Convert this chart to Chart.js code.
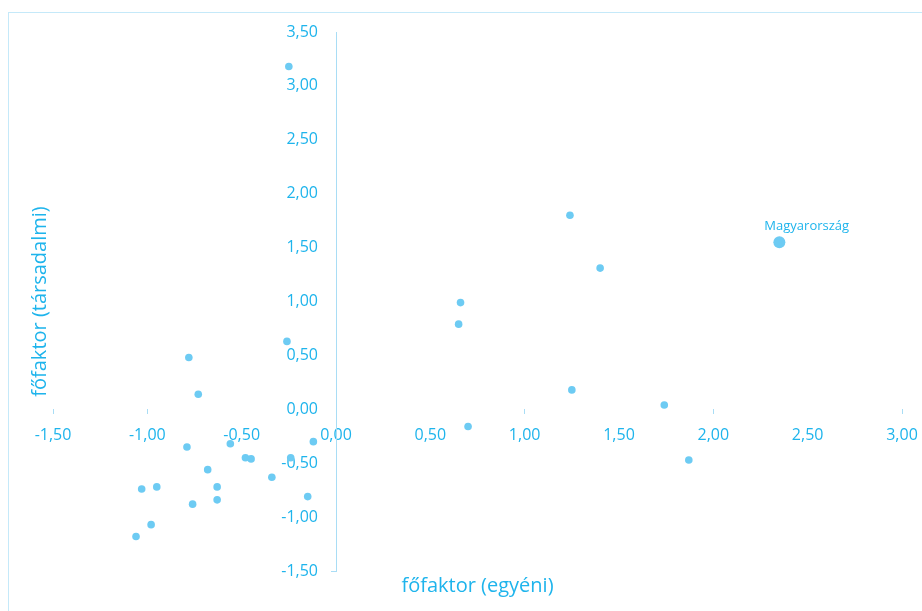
<!DOCTYPE html>
<html>
<head>
<meta charset="utf-8">
<script src="https://cdn.jsdelivr.net/npm/chart.js@4/dist/chart.umd.min.js"></script>
<style>
  html, body { margin: 0; padding: 0; background: #ffffff; overflow: hidden; }
  #wrap { position: relative; width: 922px; height: 611px; overflow: hidden; }
  #frame { position: absolute; left: 8px; top: 12px; width: 940px; height: 640px; border: 1px solid #C5E9F9; box-sizing: border-box; }
  #c { position: absolute; left: 0; top: 0; }
</style>
</head>
<body>
<div id="wrap">
  <div id="frame"></div>
  <canvas id="c" width="922" height="611"></canvas>
</div>
<script>
// ---- data ----
const xTitle = 'főfaktor (egyéni)';
const yTitle = 'főfaktor (társadalmi)';
const highlightLabel = 'Magyarország';

// individual factor (x) and social factor (y) of the other countries
const egyeni = [
  -0.25, 1.24, 1.40, 0.66, 0.65, -0.26, -0.78, -0.73, 1.25, 1.74,
  0.70, -0.12, -0.79, -0.56, -0.48, -0.45, -0.24, 1.87, -0.68, -0.34,
  -0.95, -0.63, -1.03, -0.15, -0.63, -0.76, -0.98, -1.06
];
const tarsadalmi = [
  3.18, 1.80, 1.31, 0.99, 0.79, 0.63, 0.48, 0.14, 0.18, 0.04,
  -0.16, -0.30, -0.35, -0.32, -0.45, -0.46, -0.45, -0.47, -0.56, -0.63,
  -0.72, -0.72, -0.74, -0.81, -0.84, -0.88, -1.07, -1.18
];
// the highlighted country
const huX = [2.35];
const huY = [1.55];

// axis ranges / tick spacing
const xRange = [-1.5, 3.0];
const yRange = [-1.5, 3.5];
const tickStep = 0.5;
const xMarkedTicks = [-1.5, -1, 1, 2, 3];
const yMarkedTicks = [-1.5];

// ---- styles ----
const TEXT = '#1EB4EC';
const POINT = '#6DCBF3';
const AXIS = '#A9DDF5';
const FONT = '"Open Sans", "Noto Sans", sans-serif';
const Y_LABEL_GAP = 18;

const fmt = v => Math.abs(v) < 1e-9 ? '0,00' : v.toFixed(2).replace('.', ',');
const marked = (list) => (ctx) => {
  if (!ctx.tick) return 'transparent';
  return list.some(t => Math.abs(t - ctx.tick.value) < 1e-6) ? AXIS : 'transparent';
};

// y labels of an axis placed at x = 0 are drawn flush with the line; move them left a bit
const yLabelGapPlugin = {
  id: 'yLabelGap',
  beforeDraw(chart) {
    const scale = chart.scales.y;
    const items = scale.getLabelItems(chart.chartArea);
    if (!items._shifted) {
      items.forEach(it => { it.options.translation[0] -= Y_LABEL_GAP; });
      items._shifted = true;
    }
  }
};

const titlesPlugin = {
  id: 'titles',
  afterDraw(chart) {
    const { ctx, chartArea } = chart;
    ctx.save();
    ctx.fillStyle = TEXT;
    ctx.font = '20px ' + FONT;
    ctx.textAlign = 'center';
    ctx.textBaseline = 'middle';
    ctx.fillText(xTitle, (chartArea.left + chartArea.right) / 2, 586);
    ctx.translate(40, (chartArea.top + chartArea.bottom) / 2);
    ctx.rotate(-Math.PI / 2);
    ctx.fillText(yTitle, 0, 0);
    ctx.restore();

    const meta = chart.getDatasetMeta(1);
    const pt = meta.data[0];
    ctx.save();
    ctx.fillStyle = TEXT;
    ctx.font = '13px ' + FONT;
    ctx.textAlign = 'left';
    ctx.textBaseline = 'middle';
    ctx.fillText(highlightLabel, pt.x - 15, pt.y - 16);
    ctx.restore();
  }
};

new Chart(document.getElementById('c'), {
  type: 'scatter',
  data: {
    datasets: [
      {
        data: egyeni.map((x, i) => ({ x, y: tarsadalmi[i] })),
        backgroundColor: POINT,
        borderWidth: 0,
        pointRadius: 3.8
      },
      {
        data: huX.map((x, i) => ({ x, y: huY[i] })),
        backgroundColor: POINT,
        borderWidth: 0,
        pointRadius: 6
      }
    ]
  },
  options: {
    responsive: false,
    animation: false,
    events: [],
    layout: { padding: { left: 53, right: 20, top: 32, bottom: 40 } },
    plugins: { legend: { display: false }, tooltip: { enabled: false } },
    scales: {
      x: {
        type: 'linear',
        min: xRange[0], max: xRange[1],
        position: { y: 0 },
        border: { display: false },
        grid: { drawOnChartArea: false, drawTicks: true, tickLength: 5, color: marked(xMarkedTicks) },
        ticks: { stepSize: tickStep, color: TEXT, font: { family: FONT, size: 16 }, padding: 12, callback: v => fmt(v), maxRotation: 0, autoSkip: false },
        afterFit: s => { s.paddingLeft = 0; s.paddingRight = 0; }
      },
      y: {
        type: 'linear',
        min: yRange[0], max: yRange[1],
        position: { x: 0 },
        border: { display: true, color: AXIS, width: 1 },
        grid: { drawOnChartArea: false, drawTicks: true, tickLength: 5, color: marked(yMarkedTicks) },
        ticks: { stepSize: tickStep, color: TEXT, font: { family: FONT, size: 16 }, padding: 13, callback: v => fmt(v), autoSkip: false },
        afterFit: s => { s.paddingTop = 0; s.paddingBottom = 0; }
      }
    }
  },
  plugins: [yLabelGapPlugin, titlesPlugin]
});
</script>
</body>
</html>
